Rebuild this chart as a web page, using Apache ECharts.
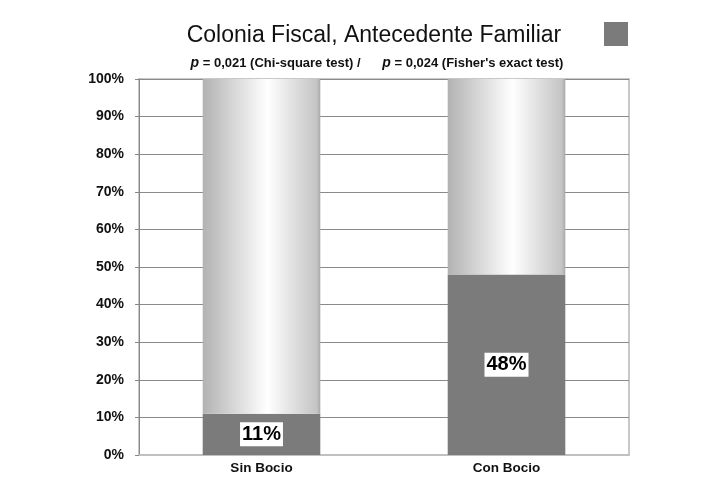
<!DOCTYPE html>
<html>
<head>
<meta charset="utf-8">
<script src="https://cdn.jsdelivr.net/npm/echarts@6/dist/echarts.min.js"></script>
<style>
  html, body { margin: 0; padding: 0; background: #fff; }
  #chart { width: 723px; height: 493px; }
</style>
</head>
<body>
<div id="chart"></div>
<script>
// datos
const categorias = ["Sin Bocio", "Con Bocio"];
const antecedente = [11, 48];      // parte oscura
const resto = [89, 52];            // parte clara hasta 100%
const ticksY = [0, 10, 20, 30, 40, 50, 60, 70, 80, 90, 100];

const chart = echarts.init(document.getElementById("chart"));

const option = {
  backgroundColor: "#fff",
  animation: false,
  title: [
    {
      text: "Colonia Fiscal, Antecedente Familiar",
      left: 369,
      top: 19,
      textAlign: "center",
      textStyle: {
        fontFamily: "Liberation Sans",
        fontSize: 23,
        fontWeight: "normal",
        color: "#111",
      },
    },
    {
      text: "{i|p} = 0,021 (Chi-square test) /      {i|p} = 0,024 (Fisher's exact test)",
      left: 372,
      top: 51,
      textAlign: "center",
      textStyle: {
        fontFamily: "Liberation Sans",
        fontSize: 13,
        fontWeight: "bold",
        color: "#111",
        rich: {
          i: { fontStyle: "italic", fontWeight: "bold", fontSize: 14, fontFamily: "Liberation Sans", color: "#111" },
        },
      },
    },
  ],
  legend: {
    show: true,
    data: [{ name: "Antecedente" }],
    left: 599,
    top: 17,
    itemWidth: 24,
    itemHeight: 24,
    icon: "rect",
    formatter: () => "",
    itemGap: 0,
  },
  grid: {
    left: 139,
    right: 94,
    top: 79,
    bottom: 38,
    show: true,
    borderColor: "#c8c8c8",
    borderWidth: 2,
  },
  xAxis: {
    type: "category",
    data: categorias,
    axisTick: { show: false },
    axisLine: { show: true, lineStyle: { color: "#c0c0c0", width: 2 } },
    axisLabel: {
      fontFamily: "Liberation Sans",
      fontWeight: "bold",
      fontSize: 13.5,
      color: "#111",
      margin: 6,
    },
  },
  yAxis: {
    type: "value",
    min: ticksY[0],
    max: ticksY[ticksY.length - 1],
    interval: 10,
    axisLine: { show: true, lineStyle: { color: "#888", width: 1 } },
    axisTick: { show: true, length: 4, lineStyle: { color: "#888" } },
    axisLabel: {
      formatter: "{value}%",
      fontFamily: "Liberation Sans",
      fontWeight: "bold",
      fontSize: 14,
      color: "#111",
      margin: 15,
    },
    splitLine: { show: true, lineStyle: { color: "#8a8a8a", width: 1 } },
  },
  series: [
    {
      name: "Antecedente",
      type: "bar",
      stack: "total",
      barWidth: "48%",
      data: antecedente,
      itemStyle: { color: "#7b7b7b" },
      label: {
        show: true,
        position: "inside",
        formatter: "{c}%",
        fontFamily: "Liberation Sans",
        fontWeight: "bold",
        fontSize: 20,
        color: "#000",
        backgroundColor: "#fff",
        padding: [3, 2, 1, 2],
      },
    },
    {
      name: "Resto",
      type: "bar",
      stack: "total",
      barWidth: "48%",
      data: resto,
      itemStyle: {
        color: new echarts.graphic.LinearGradient(0, 0, 1, 0, [
          { offset: 0, color: "#b2b2b2" },
          { offset: 0.55, color: "#ffffff" },
          { offset: 0.97, color: "#c4c4c4" },
          { offset: 1, color: "#a8a8a8" },
        ]),
      },
    },
  ],
};

chart.setOption(option);
</script>
</body>
</html>
